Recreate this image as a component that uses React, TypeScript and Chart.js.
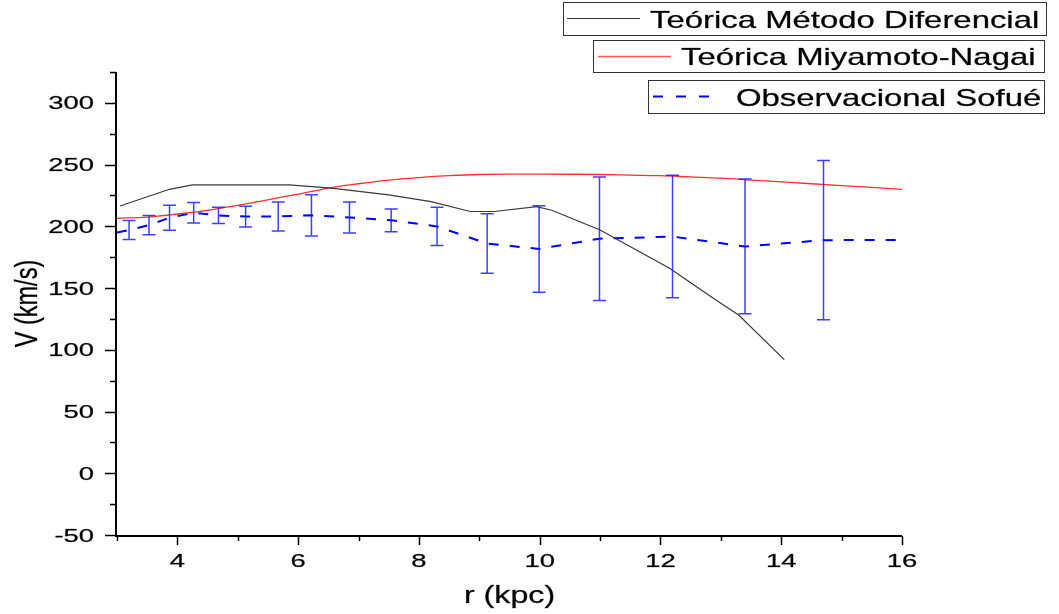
import React, { useEffect, useRef } from 'react';
import { Chart, registerables } from 'chart.js';

Chart.register(...registerables);

const FONT = '"Liberation Sans", Arial, sans-serif';
const STRETCH = 1.37;

// Teórica Método Diferencial
const diffR = [3.05, 3.87, 4.25, 5.85, 6.55, 7.5, 8.2, 8.85, 9.25, 9.95, 10.2, 11.0, 12.15, 12.9, 13.3, 14.05];
const diffV = [216.5, 230, 233.5, 233.5, 231, 225.5, 220, 212, 212, 216, 213, 197, 166, 141, 128, 92];

// Teórica Miyamoto-Nagai
const mnR = [3, 3.5, 4, 4.5, 5, 5.5, 6, 6.5, 7, 7.5, 8, 8.5, 9, 9.5, 10, 10.5, 11, 11.5, 12, 12.5, 13, 13.5, 14, 14.5, 15, 15.5, 16];
const mnV = [206.5, 207.5, 210, 213, 217, 221.5, 226, 231, 234.5, 237.5, 239.5, 241, 242, 242.3, 242.3, 242.2, 242, 241.5, 241, 240, 239, 237.5, 236, 234.5, 233, 231.5, 230];

// Observacional Sofué
const obsR = [3.0, 3.2, 3.53, 3.87, 4.27, 4.68, 5.13, 5.67, 6.22, 6.85, 7.54, 8.3, 9.13, 9.99, 10.99, 12.2, 13.4, 14.7, 16.0];
const obsV = [195, 197, 201, 207, 211, 208.8, 207.9, 208, 208.9, 207.2, 204.9, 199.9, 186.1, 181.7, 190, 191.7, 183.7, 188.8, 189];
const obsErr = [0, 7.7, 7.8, 10.1, 8.4, 6.6, 8.35, 11.7, 16.7, 12.5, 9.2, 15.5, 24.1, 35, 50, 49.6, 54.6, 64.5, 0];

const xMajorTicks = [4, 6, 8, 10, 12, 14, 16];
const xMinorTicks = [3, 5, 7, 9, 11, 13, 15];
const yMajorTicks = [-50, 0, 50, 100, 150, 200, 250, 300];
const yMinorTicks = [-25, 25, 75, 125, 175, 225, 275, 325];

const legendLabels = ['Teórica Método Diferencial', 'Teórica Miyamoto-Nagai', 'Observacional Sofué'];
const xTitle = 'r (kpc)';
const yTitle = 'V (km/s)';

function stretchedText(ctx: CanvasRenderingContext2D, text: string, x: number, y: number, align: CanvasTextAlign, size: number, stretch = STRETCH) {
  ctx.save();
  ctx.translate(x, y);
  ctx.scale(stretch, 1);
  ctx.font = `${size}px ${FONT}`;
  ctx.textAlign = align;
  ctx.textBaseline = 'alphabetic';
  ctx.fillStyle = '#000';
  ctx.strokeStyle = 'rgba(0,0,0,0.55)';
  ctx.lineWidth = 0.45;
  ctx.fillText(text, 0, 0);
  ctx.strokeText(text, 0, 0);
  ctx.restore();
}

const decorPlugin = {
  id: 'decor',
  afterDatasetsDraw(chart: any) {
    const ctx: CanvasRenderingContext2D = chart.ctx;
    const xs = chart.scales.x;
    const ys = chart.scales.y;
    ctx.save();
    ctx.strokeStyle = 'rgba(30,30,255,0.85)';
    ctx.lineWidth = 1.5;
    for (let i = 0; i < obsR.length; i++) {
      if (!obsErr[i]) continue;
      const px = xs.getPixelForValue(obsR[i]);
      const top = ys.getPixelForValue(obsV[i] + obsErr[i]);
      const bot = ys.getPixelForValue(obsV[i] - obsErr[i]);
      ctx.beginPath();
      ctx.moveTo(px, top);
      ctx.lineTo(px, bot);
      ctx.moveTo(px - 6.5, top);
      ctx.lineTo(px + 6.5, top);
      ctx.moveTo(px - 6.5, bot);
      ctx.lineTo(px + 6.5, bot);
      ctx.stroke();
    }
    ctx.restore();
  },
  afterDraw(chart: any) {
    const ctx: CanvasRenderingContext2D = chart.ctx;
    const xs = chart.scales.x;
    const ys = chart.scales.y;
    const area = chart.chartArea;
    ctx.save();
    ctx.strokeStyle = '#000';
    ctx.lineWidth = 2;
    ctx.beginPath();
    ctx.moveTo(area.left - 1, area.top);
    ctx.lineTo(area.left - 1, area.bottom + 1);
    ctx.lineTo(area.right, area.bottom + 1);
    ctx.stroke();
    ctx.lineWidth = 1.5;
    ctx.beginPath();
    for (const v of yMajorTicks) {
      const py = Math.round(ys.getPixelForValue(v)) + 0.5;
      ctx.moveTo(area.left - 12, py);
      ctx.lineTo(area.left - 1, py);
    }
    for (const v of yMinorTicks) {
      const py = Math.round(ys.getPixelForValue(v)) + 0.5;
      ctx.moveTo(area.left - 7, py);
      ctx.lineTo(area.left - 1, py);
    }
    for (const v of xMajorTicks) {
      const px = Math.round(xs.getPixelForValue(v)) + 0.5;
      ctx.moveTo(px, area.bottom + 1);
      ctx.lineTo(px, area.bottom + 10);
    }
    for (const v of xMinorTicks) {
      const px = Math.round(xs.getPixelForValue(v)) + 0.5;
      ctx.moveTo(px, area.bottom + 1);
      ctx.lineTo(px, area.bottom + 6);
    }
    ctx.stroke();
    ctx.restore();

    for (const v of yMajorTicks) {
      const py = ys.getPixelForValue(v);
      stretchedText(ctx, String(v), 94, py + 6.6, 'right', 18.5, 1.48);
    }
    for (const v of xMajorTicks) {
      const px = xs.getPixelForValue(v);
      stretchedText(ctx, String(v), px, 567, 'center', 18.5, 1.48);
    }
    stretchedText(ctx, xTitle, (area.left + area.right) / 2, 603, 'center', 23.5);
    ctx.save();
    ctx.translate(37, (area.top + area.bottom) / 2);
    ctx.scale(STRETCH, 1);
    ctx.rotate(-Math.PI / 2);
    ctx.font = `23.5px ${FONT}`;
    ctx.textAlign = 'center';
    ctx.textBaseline = 'alphabetic';
    ctx.fillStyle = '#000';
    ctx.strokeStyle = 'rgba(0,0,0,0.55)';
    ctx.lineWidth = 0.45;
    ctx.fillText(yTitle, 0, 0);
    ctx.strokeText(yTitle, 0, 0);
    ctx.restore();

    const boxes = [
      { l: 563.5, t: 2.5, r: 1046.5, b: 35.5, x0: 567, x1: 640, ly: 18.5, tx: 650, color: '#333', dash: [] as number[], w: 1 },
      { l: 593.5, t: 40.5, r: 1044.5, b: 72.5, x0: 598, x1: 671, ly: 56.5, tx: 681, color: '#ff5555', dash: [] as number[], w: 1.5 },
      { l: 648.5, t: 80.5, r: 1044.5, b: 113.5, x0: 653, x1: 714, ly: 96.5, tx: 736, color: '#0000ff', dash: [10, 13], w: 2 },
    ];
    boxes.forEach((bx, i) => {
      ctx.save();
      ctx.fillStyle = '#fff';
      ctx.fillRect(bx.l, bx.t, bx.r - bx.l, bx.b - bx.t);
      ctx.strokeStyle = '#333';
      ctx.lineWidth = 1;
      ctx.strokeRect(bx.l, bx.t, bx.r - bx.l, bx.b - bx.t);
      ctx.strokeStyle = bx.color;
      ctx.lineWidth = bx.w;
      ctx.setLineDash(bx.dash);
      ctx.beginPath();
      ctx.moveTo(bx.x0, bx.ly);
      ctx.lineTo(bx.x1, bx.ly);
      ctx.stroke();
      ctx.restore();
      stretchedText(ctx, legendLabels[i], bx.tx, (bx.t + bx.b) / 2 + 8.6, 'left', 24);
    });
  },
};

export default function App() {
  const canvasRef = useRef<HTMLCanvasElement | null>(null);

  useEffect(() => {
    document.body.style.margin = '0';
    const canvas = canvasRef.current;
    if (!canvas) return;
    const chart = new Chart(canvas, {
      type: 'line',
      data: {
        datasets: [
          {
            label: legendLabels[0],
            data: diffR.map((r, i) => ({ x: r, y: diffV[i] })),
            borderColor: '#3a3a3a',
            borderWidth: 1.2,
            pointRadius: 0,
            tension: 0,
            fill: false,
          },
          {
            label: legendLabels[1],
            data: mnR.map((r, i) => ({ x: r, y: mnV[i] })),
            borderColor: '#ff3030',
            borderWidth: 1.3,
            pointRadius: 0,
            cubicInterpolationMode: 'monotone',
            fill: false,
          },
          {
            label: legendLabels[2],
            data: obsR.map((r, i) => ({ x: r, y: obsV[i] })),
            borderColor: '#0000ff',
            borderWidth: 2,
            borderDash: [10, 11],
            pointRadius: 0,
            tension: 0,
            fill: false,
          },
        ],
      },
      options: {
        animation: false,
        responsive: false,
        devicePixelRatio: 1,
        layout: { padding: { left: 117, right: 157, top: 72, bottom: 79 } },
        plugins: {
          legend: { display: false },
          tooltip: { enabled: false },
        },
        scales: {
          x: { type: 'linear', min: 3, max: 16, display: false },
          y: { type: 'linear', min: -50, max: 325, display: false },
        },
      },
      plugins: [decorPlugin],
    });
    return () => chart.destroy();
  }, []);

  return (
    <div style={{ position: 'absolute', left: 0, top: 0, width: 1059, height: 614, background: '#fff' }}>
      <canvas ref={canvasRef} width={1059} height={614} style={{ width: 1059, height: 614, display: 'block' }} />
    </div>
  );
}
